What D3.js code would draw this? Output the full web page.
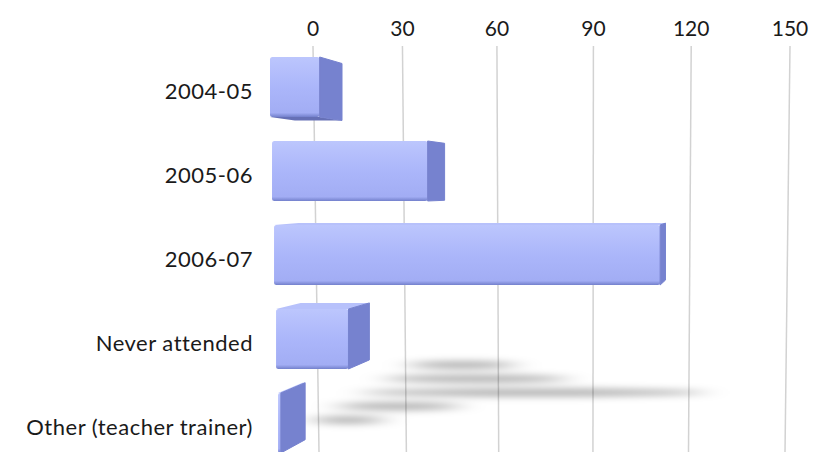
<!DOCTYPE html>
<html>
<head>
<meta charset="utf-8">
<script src="https://cdn.jsdelivr.net/npm/d3@7"></script>
<style>
  body { margin: 0; background: #fff; }
  svg { display: block; font-family: Lato, "Open Sans", sans-serif; }
</style>
</head>
<body>
<svg id="chart" width="817" height="452"></svg>
<script>
// data
var categories = ['2004-05', '2005-06', '2006-07', 'Never attended', 'Other (teacher trainer)'];
var values = [16, 48, 115, 23, 1];
var tickValues = [0, 30, 60, 90, 120, 150];

var svg = d3.select('#chart');
var defs = svg.append('defs');

// perspective: vanishing point and bar depth
var VP = {x: 767, y: 187}, depth = 0.05;
function back(p) { return [p[0] + (VP.x - p[0]) * depth, p[1] + (VP.y - p[1]) * depth]; }

var xGridTop = d3.scalePow().exponent(1.04).domain([0, 150]).range([313, 790]);
var xGridBot = d3.scalePow().exponent(1.04).domain([0, 150]).range([319, 785]);
var xFront = d3.scalePow().exponent(1.04).domain([0, 150]).range([270, 779]);
var skew = function(y) { return (y - 57) * 0.024; };
var y = d3.scaleBand().domain(categories).range([57, 453]).paddingInner(0.286).paddingOuter(0);
var shadowY = d3.scaleLinear().domain([0, 4]).range([365, 420]);
var shadowX = d3.scaleLinear().domain([0, 4]).range([408, 312]);

// gradients
var g1 = defs.append('linearGradient').attr('id', 'front').attr('x1', 0).attr('y1', 0).attr('x2', 0).attr('y2', 1);
g1.append('stop').attr('offset', '0%').attr('stop-color', '#bcc6fd');
g1.append('stop').attr('offset', '50%').attr('stop-color', '#abb6fa');
g1.append('stop').attr('offset', '93%').attr('stop-color', '#a2adf4');
g1.append('stop').attr('offset', '100%').attr('stop-color', '#7380cc');

var blur = defs.append('filter').attr('id', 'blur').attr('x', '-50%').attr('y', '-300%').attr('width', '200%').attr('height', '700%');
blur.append('feGaussianBlur').attr('stdDeviation', '14 3.5');

// gridlines
svg.append('g').selectAll('line').data(tickValues).join('line')
  .attr('x1', function(d) { return xGridTop(d); })
  .attr('x2', function(d) { return xGridBot(d); })
  .attr('y1', 46).attr('y2', 452)
  .attr('stroke', '#d2d2d2').attr('stroke-width', 1.5);

// tick labels
svg.append('g').selectAll('text').data(tickValues).join('text')
  .attr('x', function(d) { return xGridTop(d); })
  .attr('y', 36)
  .attr('text-anchor', 'middle')
  .attr('fill', '#1a1a1a')
  .style('font-size', '21px')
  .text(function(d) { return d; });

// floor shadows
svg.append('g').attr('filter', 'url(#blur)').selectAll('ellipse').data(values).join('ellipse')
  .attr('cx', function(d, i) { return shadowX(i) + (70 + d * 2.4) / 2; })
  .attr('cy', function(d, i) { return shadowY(i); })
  .attr('rx', function(d) { return (70 + d * 2.4) / 2; })
  .attr('ry', 4)
  .attr('fill', '#000').attr('opacity', 0.3);

// bars
var bars = svg.append('g').selectAll('g').data(values).join('g');
bars.each(function(d, i) {
  var g = d3.select(this);
  var top = y(categories[i]), bot = top + y.bandwidth();
  var x0 = xFront(0) + skew(top), x1 = xFront(d) + skew(top);
  var ftl = [x0, top], ftr = [x1, top], fbr = [x1, bot], fbl = [x0, bot];
  var btl = back(ftl), btr = back(ftr), bbr = back(fbr), bbl = back(fbl);
  var line = d3.line();
  if (btl[1] < top) {
    g.append('path').attr('d', line([ftl, ftr, btr, btl]) + 'Z').attr('fill', '#b7c1fb');
  }
  if (bbl[1] > bot) {
    g.append('path').attr('d', line([fbl, fbr, bbr, bbl]) + 'Z').attr('fill', '#6670b6');
  }
  g.append('rect')
    .attr('x', x0).attr('y', top)
    .attr('width', x1 - x0).attr('height', bot - top)
    .attr('rx', 2.5)
    .attr('fill', 'url(#front)');
  g.append('path').attr('d', line([ftr, btr, bbr, fbr]) + 'Z')
    .attr('fill', '#7682cf')
    .attr('stroke', '#7682cf').attr('stroke-width', 1).attr('stroke-linejoin', 'round');
});

// category labels
svg.append('g').selectAll('text').data(categories).join('text')
  .attr('x', 253)
  .attr('y', function(d) { return y(d) + y.bandwidth() / 2 + 12; })
  .attr('text-anchor', 'end')
  .attr('fill', '#1a1a1a')
  .style('font-size', '22px')
  .style('letter-spacing', '0.5px')
  .text(function(d) { return d; });
</script>
</body>
</html>
